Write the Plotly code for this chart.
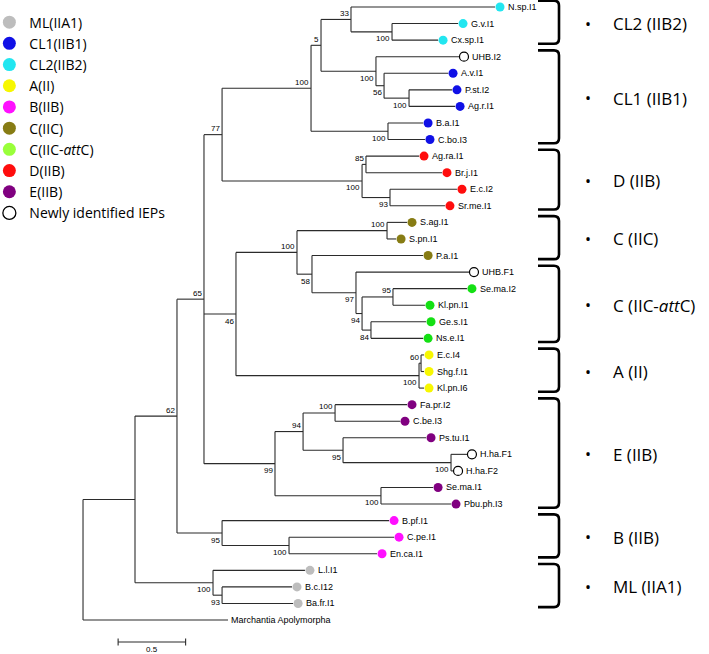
import plotly.graph_objects as go

# ---------------- data ----------------
leaf_names = ["N.sp.I1", "G.v.I1", "Cx.sp.I1", "UHB.I2", "A.v.I1", "P.st.I2", "Ag.r.I1", "B.a.I1", "C.bo.I3",
              "Ag.ra.I1", "Br.j.I1", "E.c.I2", "Sr.me.I1", "S.ag.I1", "S.pn.I1", "P.a.I1", "UHB.F1", "Se.ma.I2",
              "Kl.pn.I1", "Ge.s.I1", "Ns.e.I1", "E.c.I4", "Shg.f.I1", "Kl.pn.I6", "Fa.pr.I2", "C.be.I3",
              "Ps.tu.I1", "H.ha.F1", "H.ha.F2", "Se.ma.I1", "Pbu.ph.I3", "B.pf.I1", "C.pe.I1", "En.ca.I1",
              "L.l.I1", "B.c.I12", "Ba.fr.I1", "Marchantia Apolymorpha"]
leaf_groups = ["CL2", "CL2", "CL2", "New", "CL1", "CL1", "CL1", "CL1", "CL1",
               "D", "D", "D", "D", "C", "C", "C", "New", "attC",
               "attC", "attC", "attC", "A", "A", "A", "E", "E",
               "E", "New", "New", "E", "E", "B", "B", "B",
               "ML", "ML", "ML", None]
leaf_depth = [3.052, 2.778, 2.630, 2.785, 2.704, 2.733, 2.756, 2.519, 2.533,
              2.489, 2.659, 2.770, 2.681, 2.400, 2.319, 2.519, 2.859, 2.844,
              2.533, 2.541, 2.519, 2.526, 2.526, 2.526, 2.400, 2.348,
              2.541, 2.844, 2.741, 2.593, 2.726, 2.267, 2.304, 2.178,
              1.644, 1.548, 1.556, 1.074]

node_ids = ["root", "nIn", "n62", "n65", "n77", "nCL", "n5", "n33", "nGv", "nCL1", "n56", "nPst", "nBa",
            "nD", "n85", "n93D", "n46", "nC", "nSag", "n58", "n97", "n94C", "n95C", "n84", "nA100", "nA60",
            "n99", "n94E", "nFa", "n95E", "nHha", "nSe", "nB", "nCpe", "nML", "n93ML"]
node_depth = [0.0, 0.385, 0.696, 0.896, 1.030, 1.689, 1.763, 1.985, 2.289, 2.170, 2.230, 2.415, 2.259,
              2.067, 2.096, 2.274, 1.133, 1.585, 2.252, 1.696, 2.022, 2.067, 2.296, 2.133, 2.489, 2.504,
              1.422, 1.630, 1.867, 1.926, 2.726, 2.207, 1.030, 1.526, 0.963, 1.030]
node_support = [None, None, 62, 65, 77, 100, 5, 33, 100, 100, 56, 100, 100,
                100, 85, 93, 46, 100, 100, 58, 97, 94, 95, 84, 100, 60,
                99, 94, 100, 95, 100, 100, 95, 100, 100, 93]
node_children = [
    ["nIn", "Marchantia Apolymorpha"],
    ["n62", "nML"],
    ["n65", "nB"],
    ["n77", "n46", "n99"],
    ["nCL", "nD"],
    ["n5", "nBa"],
    ["n33", "nCL1"],
    ["N.sp.I1", "nGv"],
    ["G.v.I1", "Cx.sp.I1"],
    ["UHB.I2", "n56"],
    ["A.v.I1", "nPst"],
    ["P.st.I2", "Ag.r.I1"],
    ["B.a.I1", "C.bo.I3"],
    ["n85", "n93D"],
    ["Ag.ra.I1", "Br.j.I1"],
    ["E.c.I2", "Sr.me.I1"],
    ["nC", "nA100"],
    ["nSag", "n58"],
    ["S.ag.I1", "S.pn.I1"],
    ["P.a.I1", "n97"],
    ["UHB.F1", "n94C"],
    ["n95C", "n84"],
    ["Se.ma.I2", "Kl.pn.I1"],
    ["Ge.s.I1", "Ns.e.I1"],
    ["nA60", "Kl.pn.I6"],
    ["E.c.I4", "Shg.f.I1"],
    ["n94E", "nSe"],
    ["nFa", "n95E"],
    ["Fa.pr.I2", "C.be.I3"],
    ["Ps.tu.I1", "nHha"],
    ["H.ha.F1", "H.ha.F2"],
    ["Se.ma.I1", "Pbu.ph.I3"],
    ["B.pf.I1", "nCpe"],
    ["C.pe.I1", "En.ca.I1"],
    ["L.l.I1", "n93ML"],
    ["B.c.I12", "Ba.fr.I1"],
]

group_keys = ["ML", "CL1", "CL2", "A", "B", "C", "attC", "D", "E", "New"]
group_labels = ["ML(IIA1)", "CL1(IIB1)", "CL2(IIB2)", "A(II)", "B(IIB)", "C(IIC)",
                "C(IIC-<i>att</i>C)", "D(IIB)", "E(IIB)", "Newly identified IEPs"]

clade_labels = ["CL2 (IIB2)", "CL1 (IIB1)", "D (IIB)", "C (IIC)", "C (IIC-<i>att</i>C)",
                "A (II)", "E (IIB)", "B (IIB)", "ML (IIA1)"]
clade_first = [0, 3, 9, 13, 16, 21, 24, 31, 34]
clade_last = [2, 8, 12, 15, 20, 23, 30, 33, 36]

scale_length = 0.5
scale_label = "0.5"

# ---------------- style ----------------
W, H = 709, 654
X_RANGE = [-0.615, 4.637]
Y_RANGE = [39.05, -0.4225]
px_per_unit = W / (X_RANGE[1] - X_RANGE[0])
px_per_leaf = H / (Y_RANGE[0] - Y_RANGE[1])

tree_color = "#2b2b2b"
tree_font = "Liberation Sans, Arial, sans-serif"
big_font = "Open Sans, Liberation Sans, sans-serif"
tree_colors = {"ML": "#bdbdbd", "CL1": "#1010e6", "CL2": "#22e6f0", "A": "#f7f700", "B": "#ff10ff",
               "C": "#877c14", "attC": "#14e014", "D": "#ff0d0d", "E": "#800080", "New": "white"}
legend_colors = dict(tree_colors)
legend_colors["attC"] = "#99ff3a"
below_nodes = {"nGv", "nCL1", "n56", "nPst", "nBa", "nD", "n93D", "n58", "n97", "n94C", "n84", "nA100",
               "n46", "n95E", "n99", "nHha", "nSe", "nB", "nCpe", "nML", "n93ML"}
marker_gap = 5.0 / px_per_unit

# ---------------- build tree geometry ----------------
depth = {n: d for n, d in zip(leaf_names, leaf_depth)}
depth.update({n: d for n, d in zip(node_ids, node_depth)})
children = dict(zip(node_ids, node_children))
ypos = {n: i for i, n in enumerate(leaf_names)}


def place(n):
    if n in ypos:
        return ypos[n]
    ys = [place(c) for c in children[n]]
    ypos[n] = (ys[0] + ys[-1]) / 2.0
    return ypos[n]


place("root")

lx, ly = [], []
for n in node_ids:
    kids = children[n]
    x0 = depth[n]
    lx += [x0, x0, None]
    ly += [ypos[kids[0]], ypos[kids[-1]], None]
    for c in kids:
        lx += [x0, depth[c], None]
        ly += [ypos[c], ypos[c], None]

fig = go.Figure()
fig.add_trace(go.Scatter(x=lx, y=ly, mode="lines", line=dict(color=tree_color, width=1.1),
                         hoverinfo="skip", showlegend=False))

# leaf markers per group (tree size) and legend entries
for key, lab in zip(group_keys, group_labels):
    idx = [i for i, g in enumerate(leaf_groups) if g == key]
    line = dict(color="black", width=1.2) if key == "New" else dict(width=0)
    fig.add_trace(go.Scatter(
        x=[leaf_depth[i] + marker_gap for i in idx], y=[i for i in idx], mode="markers",
        marker=dict(size=9, color=tree_colors[key], line=line),
        text=[leaf_names[i] for i in idx], hoverinfo="text", showlegend=False, legendgroup=key))
    fig.add_trace(go.Scatter(
        x=[None], y=[None], mode="markers", name=lab, legendgroup=key,
        marker=dict(size=13, color=legend_colors[key],
                    line=dict(color="black", width=1.3) if key == "New" else dict(width=0))))

annotations = []
for i, n in enumerate(leaf_names):
    has_marker = leaf_groups[i] is not None
    annotations.append(dict(x=leaf_depth[i], y=i, text=n, showarrow=False, xanchor="left", yanchor="middle",
                            xshift=11 if has_marker else 1,
                            font=dict(family=tree_font, size=9, color="black")))

for n, s in zip(node_ids, node_support):
    if s is None:
        continue
    annotations.append(dict(x=depth[n], y=ypos[n], text=str(s), showarrow=False, xanchor="right",
                            yanchor="middle", xshift=0, yshift=-7 if n in below_nodes else 6,
                            font=dict(family=tree_font, size=8, color="black")))

# scale bar
sb_x0 = 0.26
sb_y = (642 - 7) / px_per_leaf
tick = 3.5 / px_per_leaf
fig.add_trace(go.Scatter(
    x=[sb_x0, sb_x0 + scale_length, None, sb_x0, sb_x0, None, sb_x0 + scale_length, sb_x0 + scale_length],
    y=[sb_y, sb_y, None, sb_y - tick, sb_y + tick, None, sb_y - tick, sb_y + tick],
    mode="lines", line=dict(color=tree_color, width=1.1), hoverinfo="skip", showlegend=False))
annotations.append(dict(x=sb_x0 + scale_length / 2, y=sb_y, text=scale_label, showarrow=False,
                        yanchor="top", yshift=-1, font=dict(family=tree_font, size=8, color="black")))

# clade brackets
shapes = []
xl, xr = 538 / W, 559 / W
rx, ry = 5 / W, 5 / px_per_leaf
for lab, f, l in zip(clade_labels, clade_first, clade_last):
    yt, yb = f - 0.38, l + 0.22
    path = (f"M {xl},{yt} L {xr - rx},{yt} Q {xr},{yt} {xr},{yt + ry} "
            f"L {xr},{yb - ry} Q {xr},{yb} {xr - rx},{yb} L {xl},{yb}")
    shapes.append(dict(type="path", path=path, xref="paper", yref="y",
                       line=dict(color="black", width=2.6)))
    ym = (f + l) / 2.0
    annotations.append(dict(x=588 / W, xref="paper", y=ym, text="•", showarrow=False,
                            xanchor="center", yanchor="middle",
                            font=dict(family=big_font, size=16, color="black")))
    annotations.append(dict(x=613 / W, xref="paper", y=ym, text=lab, showarrow=False,
                            xanchor="left", yanchor="middle", xshift=-2,
                            font=dict(family=big_font, size=17, color="black")))

fig.update_layout(
    width=W, height=H, margin=dict(l=0, r=0, t=0, b=0, autoexpand=False),
    paper_bgcolor="white", plot_bgcolor="white",
    xaxis=dict(range=X_RANGE, visible=False, fixedrange=True),
    yaxis=dict(range=Y_RANGE, visible=False, fixedrange=True),
    showlegend=True,
    legend=dict(x=-0.015, y=0.99, xanchor="left", yanchor="top", bgcolor="rgba(0,0,0,0)",
                font=dict(family=big_font, size=14, color="black"), itemsizing="trace",
                tracegroupgap=0),
    annotations=annotations, shapes=shapes,
)

fig.write_html("out.html", config={"displayModeBar": False},
               post_script="document.body.style.margin='0';document.body.style.overflow='hidden';")
